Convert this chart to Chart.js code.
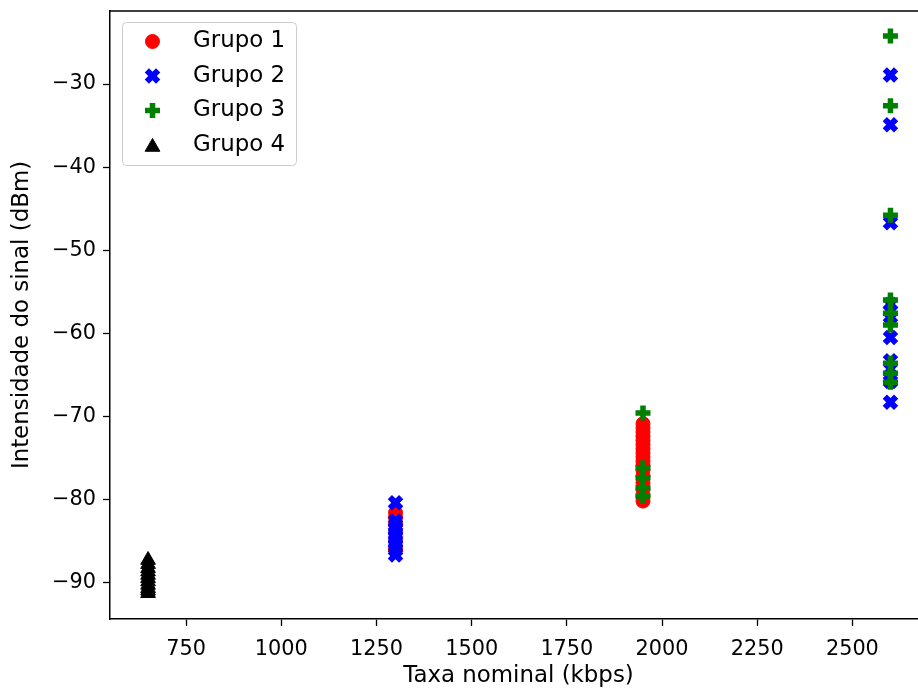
<!DOCTYPE html>
<html>
<head>
<meta charset="utf-8">
<script src="https://cdn.jsdelivr.net/npm/chart.js@4/dist/chart.umd.min.js"></script>
<style>
  html, body { margin: 0; padding: 0; background: #fff; overflow: hidden; }
  #wrap { width: 918px; height: 691px; overflow: hidden; }
</style>
</head>
<body>
<div id="wrap"><canvas id="chart" width="928" height="691"></canvas></div>
<script>
const xTicks = [750, 1000, 1250, 1500, 1750, 2000, 2250, 2500];
const yTicks = [-90, -80, -70, -60, -50, -40, -30];

const g1At1300 = [-81.6, -82.2, -83.0, -84.0, -85.0, -86.0];
const g1At1950 = [-70.9, -71.4, -71.9, -72.4, -72.9, -73.4, -73.9, -74.4, -74.9, -75.4, -75.9, -76.5, -77.2, -78.0, -78.8, -79.6, -80.2];
const g2At1300 = [-80.4, -82.6, -83.1, -83.6, -84.1, -84.6, -85.1, -85.6, -86.1, -86.7];
const g2At2600 = [-28.9, -34.9, -46.7, -56.5, -57.3, -58.0, -60.5, -63.3, -64.3, -65.3, -65.8, -68.3];
const g3At1950 = [-69.6, -76.2, -77.4, -78.6, -79.6];
const g3At2600 = [-24.2, -32.6, -45.8, -56.0, -57.6, -59.0, -63.6, -64.8, -65.9];
const g4At650 = [-87.3, -87.8, -88.3, -88.7, -89.1, -89.5, -89.9, -90.3, -90.7, -91.0, -91.3];

function pts(x, ys) {
  return ys.map(y => ({ x: x, y: y }));
}

const groups = [
  { label: "Grupo 1", data: pts(1300, g1At1300).concat(pts(1950, g1At1950)), color: "#ff0000", style: "circle", radius: 7, bw: 1, order: 4 },
  { label: "Grupo 2", data: pts(1300, g2At1300).concat(pts(2600, g2At2600)), color: "#0000ff", style: "crossRot", radius: 8, bw: 6, order: 3 },
  { label: "Grupo 3", data: pts(1950, g3At1950).concat(pts(2600, g3At2600)), color: "#008000", style: "cross", radius: 7.5, bw: 5.5, order: 2 },
  { label: "Grupo 4", data: pts(650, g4At650), color: "#000000", style: "triangle", radius: 8.5, bw: 1, order: 1 }
];

const tickFont = { family: "DejaVu Sans", size: 20.8 };
const labelFont = { family: "DejaVu Sans", size: 22.9 };

// top spine and the legend box drawn like matplotlib
const framePlugin = {
  id: "frame",
  afterDraw(chart) {
    const ctx = chart.ctx;
    const a = chart.chartArea;
    ctx.save();
    ctx.strokeStyle = "#000";
    ctx.lineWidth = 1.5;
    ctx.beginPath();
    ctx.moveTo(a.left, a.top);
    ctx.lineTo(a.right, a.top);
    ctx.stroke();

    const bx = 122, by = 22, bw = 174, bh = 143;
    ctx.fillStyle = "rgba(255,255,255,0.8)";
    ctx.strokeStyle = "#cccccc";
    ctx.lineWidth = 1;
    ctx.beginPath();
    ctx.roundRect(bx + 0.5, by + 0.5, bw, bh, 4);
    ctx.fill();
    ctx.stroke();

    groups.forEach((g, i) => {
      const y = 41.5 + i * 34.5;
      ctx.fillStyle = g.color;
      ctx.strokeStyle = g.color;
      ctx.lineWidth = g.bw;
      Chart.helpers.drawPoint(ctx, {
        pointStyle: g.style,
        radius: g.radius,
        borderWidth: g.bw,
        rotation: 0
      }, 152.5, g.style === "triangle" ? y + 2 : y);
      ctx.fillStyle = "#000";
      ctx.font = labelFont.size + "px " + labelFont.family;
      ctx.textBaseline = "middle";
      ctx.textAlign = "left";
      ctx.fillText(g.label, 193, y);
    });
    ctx.restore();
  }
};

window.onload = () => {
  const ctx = document.getElementById("chart").getContext("2d");
  new Chart(ctx, {
    type: "scatter",
    data: {
      datasets: groups.map(g => ({
        label: g.label,
        data: g.data,
        pointStyle: g.style,
        pointRadius: g.radius,
        pointHoverRadius: g.radius,
        pointBorderWidth: g.bw,
        backgroundColor: g.color,
        borderColor: g.color,
        order: g.order
      }))
    },
    options: {
      responsive: false,
      animation: false,
      devicePixelRatio: 1,
      layout: { autoPadding: false, padding: { top: 11, right: 1, left: 0, bottom: 0 } },
      plugins: {
        legend: { display: false },
        tooltip: { enabled: false }
      },
      scales: {
        x: {
          type: "linear",
          min: 550,
          max: 2696,
          afterFit: s => { s.height = 72; s.paddingLeft = 0; s.paddingRight = 0; },
          afterBuildTicks: s => { s.ticks = xTicks.map(v => ({ value: v })); },
          grid: { drawOnChartArea: false, tickLength: 7, tickColor: "#000", tickWidth: 1.3 },
          border: { color: "#000", width: 1.5 },
          ticks: { color: "#000", font: tickFont, padding: 11, maxRotation: 0, callback: v => String(v) },
          title: { display: true, text: "Taxa nominal (kbps)", color: "#000", font: labelFont, padding: { top: 0, bottom: 1 } }
        },
        y: {
          type: "linear",
          min: -94.4,
          max: -21.2,
          afterFit: s => { s.width = 110; s.paddingTop = 0; s.paddingBottom = 0; },
          afterBuildTicks: s => { s.ticks = yTicks.map(v => ({ value: v })); },
          grid: { drawOnChartArea: false, tickLength: 7, tickColor: "#000", tickWidth: 1.3 },
          border: { color: "#000", width: 1.5 },
          ticks: {
            color: "#000",
            font: tickFont,
            padding: 7,
            callback: v => String(v).replace("-", "\u2212")
          },
          title: { display: true, text: "Intensidade do sinal (dBm)", color: "#000", font: labelFont, padding: { top: 8, bottom: 0 } }
        }
      }
    },
    plugins: [framePlugin]
  });
};
</script>
</body>
</html>
